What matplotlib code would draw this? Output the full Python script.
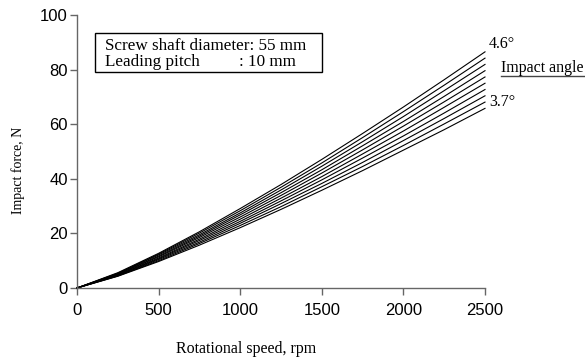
import matplotlib.pyplot as plt
from matplotlib.lines import Line2D
from matplotlib.patches import Rectangle

# rotational speed, rpm
speed = [0, 250, 500, 750, 1000, 1250, 1500, 1750, 2000, 2250, 2500]

# impact angle, degrees (one curve each)
angles = [4.6, 4.5, 4.4, 4.3, 4.2, 4.1, 4.0, 3.9, 3.8, 3.7]

# impact force, N
force_46 = [0, 5.6, 12.7, 20.6, 29.1, 37.9, 47.1, 56.6, 66.3, 76.3, 86.5]
force_45 = [0, 5.4, 12.4, 20.1, 28.3, 36.9, 45.8, 55.1, 64.6, 74.3, 84.2]
force_44 = [0, 5.3, 12.1, 19.5, 27.5, 35.9, 44.6, 53.6, 62.8, 72.3, 81.9]
force_43 = [0, 5.1, 11.7, 19.0, 26.8, 34.9, 43.3, 52.1, 61.0, 70.2, 79.6]
force_42 = [0, 5.0, 11.4, 18.5, 26.0, 33.9, 42.1, 50.6, 59.3, 68.2, 77.3]
force_41 = [0, 4.8, 11.0, 17.9, 25.2, 32.9, 40.8, 49.1, 57.5, 66.2, 75.0]
force_40 = [0, 4.7, 10.7, 17.4, 24.4, 31.9, 39.6, 47.6, 55.7, 64.1, 72.7]
force_39 = [0, 4.5, 10.4, 16.8, 23.7, 30.9, 38.3, 46.0, 54.0, 62.1, 70.4]
force_38 = [0, 4.4, 10.0, 16.3, 22.9, 29.8, 37.1, 44.5, 52.2, 60.1, 68.1]
force_37 = [0, 4.3, 9.7, 15.7, 22.1, 28.8, 35.8, 43.0, 50.5, 58.0, 65.8]

forces = [force_46, force_45, force_44, force_43, force_42,
          force_41, force_40, force_39, force_38, force_37]

xticks = [0, 500, 1000, 1500, 2000, 2500]
yticks = [0, 20, 40, 60, 80, 100]

serif = ["Liberation Serif", "DejaVu Serif"]
sans = ["Liberation Sans", "DejaVu Sans"]

fig = plt.figure(figsize=(5.85, 3.6), dpi=100)
ax = fig.add_axes([77 / 585, 1 - 288 / 360, 408 / 585, 273 / 360])

for f in forces:
    ax.plot(speed, f, color="black", linewidth=0.8, clip_on=False)

ax.set_xlim(0, 2500)
ax.set_ylim(0, 100)
ax.set_xticks(xticks)
ax.set_yticks(yticks)
for lab in ax.get_xticklabels() + ax.get_yticklabels():
    lab.set_family(sans)
    lab.set_fontsize(12)

ax.spines["top"].set_visible(False)
ax.spines["right"].set_visible(False)
for s in ["left", "bottom"]:
    ax.spines[s].set_color("#666666")
    ax.spines[s].set_linewidth(1.0)
ax.tick_params(direction="out", length=5, width=1.0, color="#666666")
ax.tick_params(axis="y", pad=1.5)
ax.tick_params(axis="x", pad=6)

# axis labels
fig.text(246 / 585, 1 - 349 / 360, "Rotational speed, rpm", family=serif,
         fontsize=11.5, ha="center", va="center")
fig.text(18 / 585, 1 - 170 / 360, "Impact force, N", family=serif,
         fontsize=10, ha="center", va="center", rotation=90)

# info box
fig.add_artist(Rectangle((95 / 585, 1 - 72 / 360), 227 / 585, 39 / 360,
                         transform=fig.transFigure, fill=False,
                         edgecolor="black", linewidth=1.0))
fig.text(105 / 585, 1 - 46 / 360, "Screw shaft diameter: 55 mm", family=serif,
         fontsize=12.3, ha="left", va="center")
fig.text(105 / 585, 1 - 62 / 360, "Leading pitch", family=serif,
         fontsize=12.3, ha="left", va="center")
fig.text(239 / 585, 1 - 62 / 360, ": 10 mm", family=serif,
         fontsize=12.3, ha="left", va="center")

# angle labels
fig.text(489 / 585, 1 - 44 / 360, "%.1f\u00b0" % angles[0], family=serif,
         fontsize=11.5, ha="left", va="center")
fig.text(489 / 585, 1 - 102 / 360, "%.1f\u00b0" % angles[-1], family=serif,
         fontsize=11.5, ha="left", va="center")
fig.text(501 / 585, 1 - 68 / 360, "Impact angle", family=serif,
         fontsize=11.5, ha="left", va="center")
fig.add_artist(Line2D([501 / 585, 584 / 585], [1 - 76 / 360, 1 - 76 / 360],
                      transform=fig.transFigure, color="#444444", linewidth=1.0))

fig.savefig("out.png", dpi=100)
